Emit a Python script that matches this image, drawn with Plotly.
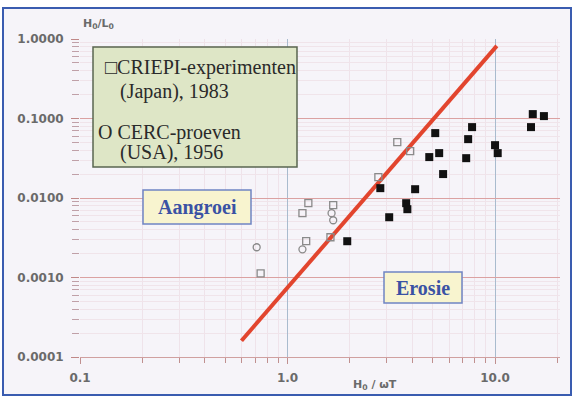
import plotly.graph_objects as go

# ---- data ----
filled_x = [1.94, 2.80, 3.09, 3.73, 3.78, 4.12, 4.82, 5.15, 5.38, 5.62, 7.26, 7.42, 7.75, 10.0, 10.3, 14.9, 15.2, 17.2]
filled_y = [0.00286, 0.0133, 0.00573, 0.00861, 0.00723, 0.0129, 0.0327, 0.0655, 0.0367, 0.0200, 0.0317, 0.0550, 0.0779, 0.0462, 0.0367, 0.0779, 0.1136, 0.1072]

criepi_x = [0.742, 1.18, 1.26, 1.66, 2.74, 3.38, 3.90, 1.23, 1.61]
criepi_y = [0.00113, 0.00644, 0.00861, 0.00812, 0.0183, 0.0504, 0.0389, 0.00286, 0.00321]

cerc_x = [0.710, 1.18, 1.63, 1.66]
cerc_y = [0.00240, 0.00226, 0.00644, 0.00525]

line_x = [0.6, 10.2]
line_y = [0.00016, 0.82]

x_tickvals = [0.1, 1, 10]
x_ticktext = ["0.1", "1.0", "10.0"]
y_tickvals = [0.0001, 0.001, 0.01, 0.1, 1]
y_ticktext = ["0.0001", "0.0010", "0.0100", "0.1000", "1.0000"]

legend_lines = ["□CRIEPI-experimenten", "(Japan), 1983", "O CERC-proeven", "(USA), 1956"]

# ---- layout helpers (pixel -> paper) ----
L, R, T, B = 80, 560, 39, 357
def px(x):
    return (x - L) / (R - L)
def py(y):
    return (B - y) / (B - T)

minor_x = [m * 10 ** k for k in (-1, 0, 1) for m in range(2, 10) if m * 10 ** k < 21]
minor_y = [m * 10 ** k for k in (-4, -3, -2, -1) for m in range(2, 10)]

fig = go.Figure()

fig.add_trace(go.Scatter(x=line_x, y=line_y, mode="lines",
                         line=dict(color="#e2452e", width=4), showlegend=False, hoverinfo="skip"))
fig.add_trace(go.Scatter(x=criepi_x, y=criepi_y, mode="markers",
                         marker=dict(symbol="square-open", size=7, color="#8a8a8a", line=dict(width=1.3)),
                         showlegend=False))
fig.add_trace(go.Scatter(x=cerc_x, y=cerc_y, mode="markers",
                         marker=dict(symbol="circle-open", size=7, color="#8a8a8a", line=dict(width=1.3)),
                         showlegend=False))
fig.add_trace(go.Scatter(x=filled_x, y=filled_y, mode="markers",
                         marker=dict(symbol="square", size=8, color="#111111"),
                         showlegend=False))

tickfont = dict(family="DejaVu Sans", size=12, color="#6a6a6a", weight="bold")

fig.update_xaxes(type="log", range=[-1, 1.313], automargin=False,
                 tickvals=x_tickvals, ticktext=x_ticktext, tickfont=tickfont,
                 ticks="outside", ticklen=6, tickcolor="#c09090", ticklabelstandoff=4,
                 showline=True, linecolor="#d0a0a0", linewidth=1, mirror=False,
                 showgrid=True, gridcolor="#a9bbce", gridwidth=1, zeroline=False,
                 minor=dict(tickvals=minor_x, ticks="outside", ticklen=5, tickcolor="#c09090",
                            showgrid=True, gridcolor="#efe3ea", gridwidth=1))
fig.update_yaxes(type="log", range=[-4, 0], automargin=False,
                 tickvals=y_tickvals, ticktext=y_ticktext, tickfont=tickfont,
                 ticks="outside", ticklen=8, tickcolor="#c08888", ticklabelstandoff=5,
                 showline=False,
                 showgrid=True, gridcolor="#dba2a2", gridwidth=1, zeroline=False,
                 minor=dict(tickvals=minor_y, ticks="outside", ticklen=7, tickcolor="#c0a0a8",
                            showgrid=True, gridcolor="#f0e4ea", gridwidth=1))

shapes = [
    # inner background
    dict(type="rect", xref="paper", yref="paper", layer="below",
         x0=px(3), x1=px(571), y0=py(395), y1=py(8),
         fillcolor="#f6f4f9", line=dict(width=0)),
    # blue frame
    dict(type="rect", xref="paper", yref="paper", layer="above",
         x0=px(3), x1=px(571), y0=py(395), y1=py(8),
         fillcolor="rgba(0,0,0,0)", line=dict(color="#3a5cb0", width=2)),
    # legend box
    dict(type="rect", xref="paper", yref="paper", layer="above",
         x0=px(93), x1=px(297), y0=py(167), y1=py(47),
         fillcolor="#dee6c6", line=dict(color="#5a6650", width=1.5)),
    # Aangroei box
    dict(type="rect", xref="paper", yref="paper", layer="above",
         x0=px(143), x1=px(251), y0=py(224), y1=py(190),
         fillcolor="#f8f4cf", line=dict(color="#6f84c4", width=1.5)),
    # Erosie box
    dict(type="rect", xref="paper", yref="paper", layer="above",
         x0=px(384), x1=px(462), y0=py(303), y1=py(272),
         fillcolor="#f8f4cf", line=dict(color="#6f84c4", width=1.5)),
]

serif = dict(family="Liberation Serif", size=20, color="#2a2a2a")
ann = []
for text, x, y in zip(legend_lines, [103, 118, 96, 118], [67, 92, 132, 152]):
    ann.append(dict(text=text, x=px(x), y=py(y), xref="paper", yref="paper",
                    xanchor="left", yanchor="middle", showarrow=False, font=serif))
bluefont = dict(family="Liberation Serif", size=20, color="#3a52a4", weight="bold")
ann.append(dict(text="Aangroei", x=px(197), y=py(207), xref="paper", yref="paper",
                xanchor="center", yanchor="middle", showarrow=False, font=bluefont))
ann.append(dict(text="Erosie", x=px(423), y=py(288), xref="paper", yref="paper",
                xanchor="center", yanchor="middle", showarrow=False, font=bluefont))
titlefont = dict(family="DejaVu Sans", size=11, color="#6a6a6a", weight="bold")
ann.append(dict(text="H<sub>0</sub>/L<sub>0</sub>", x=px(98), y=py(24), xref="paper", yref="paper",
                xanchor="center", yanchor="middle", showarrow=False, font=titlefont))
ann.append(dict(text="H<sub>0</sub> / ωT", x=px(375), y=py(385), xref="paper", yref="paper",
                xanchor="center", yanchor="middle", showarrow=False, font=titlefont))

fig.update_layout(width=574, height=397,
                  margin=dict(l=L, r=574 - R, t=T, b=397 - B),
                  paper_bgcolor="white", plot_bgcolor="rgba(0,0,0,0)",
                  shapes=shapes, annotations=ann, showlegend=False)

fig.write_html("out.html", config={"displayModeBar": False},
               post_script="document.body.style.margin='0';document.body.style.overflow='hidden';")
